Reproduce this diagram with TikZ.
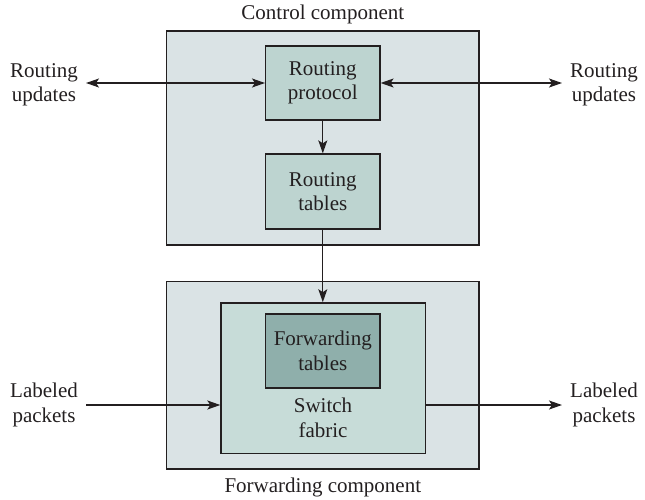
\documentclass[tikz,border=0pt]{standalone}
\usepackage{fontspec}
\setmainfont{Liberation Serif}
\usetikzlibrary{arrows.meta}
\definecolor{outerfill}{HTML}{DAE3E5}
\definecolor{rbfill}{HTML}{BDD4D0}
\definecolor{swfill}{HTML}{C7DCD8}
\definecolor{ftfill}{HTML}{8FAFAB}
\definecolor{ink}{HTML}{231F20}
\begin{document}
\begin{tikzpicture}[x=1pt,y=-1pt,
  every node/.style={font=\fontsize{21}{24.5}\selectfont, text=ink, align=center},
  box/.style={draw=ink, line width=1.3pt, inner sep=0pt},
  conn/.style={draw=ink, line width=1.3pt, -{Stealth[length=13pt,width=9pt,inset=3pt]}},
  lbl/.style={inner sep=0pt}]
\useasboundingbox (0,0) rectangle (645,499);
\node[box, fill=outerfill, minimum width=312.3pt, minimum height=214pt] (ctrl) at (322.8,138) {};
\node[box, fill=rbfill, minimum width=114.3pt, minimum height=74pt] (rp) at (322.8,83) {Routing\\protocol};
\node[box, fill=rbfill, minimum width=114.3pt, minimum height=75pt] (rt) at (322.8,191.5) {Routing\\tables};
\node[lbl] (ctitle) at (322.8,14) {Control component};
\node[box, fill=outerfill, minimum width=312.3pt, minimum height=187.3pt] (fwd) at (322.8,375.3) {};
\node[box, fill=swfill, minimum width=204.7pt, minimum height=150.3pt] (sw) at (323.3,378) {};
\node[box, fill=ftfill, minimum width=114.3pt, minimum height=74pt] (ft) at (322.8,351) {Forwarding\\tables};
\node[lbl] (swt) at (323,418) {Switch\\fabric};
\node[lbl] (ftitle) at (322.8,487) {Forwarding component};
\node[lbl] (ruL) at (44,85) {Routing\\updates};
\node[lbl] (ruR) at (604,85) {Routing\\updates};
\node[lbl] (lpL) at (44,405) {Labeled\\packets};
\node[lbl] (lpR) at (604,405) {Labeled\\packets};
\coordinate (aL) at (86,83);
\coordinate (aR) at (562,83);
\coordinate (bL) at (86,405);
\coordinate (bR) at (562,405);
\draw[conn, {Stealth[length=13pt,width=9pt,inset=3pt]}-{Stealth[length=13pt,width=9pt,inset=3pt]}] (aL) -- (rp.west);
\draw[conn, {Stealth[length=13pt,width=9pt,inset=3pt]}-{Stealth[length=13pt,width=9pt,inset=3pt]}] (aR) -- (rp.east);
\draw[conn] (rp.south) -- (rt.north);
\draw[conn] (rt.south) -- (sw.north -| rt.south);
\draw[conn] (bL) -- (bL -| sw.west);
\draw[conn] (bR -| sw.east) -- (bR);
\end{tikzpicture}
\end{document}
